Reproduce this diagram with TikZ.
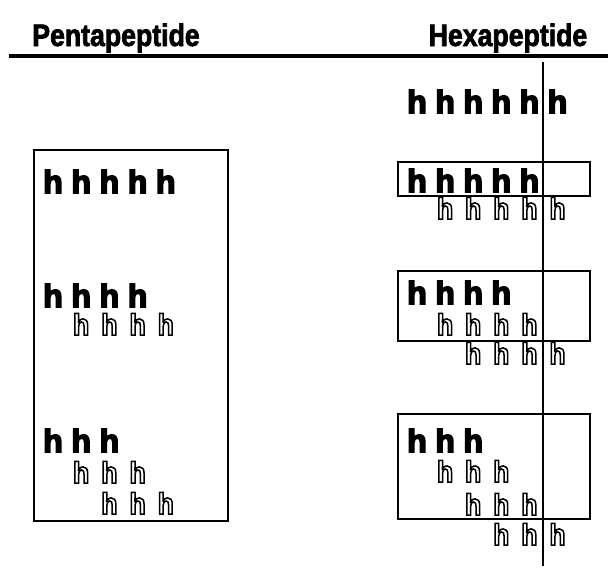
\documentclass[tikz,border=0pt]{standalone}
\usepackage{fontspec}
\setmainfont{Liberation Sans}
\newfontfamily\hboldfont{Liberation Sans Bold}
\newfontfamily\houtfont[FakeStretch=0.88]{Liberation Sans Bold}
\newfontfamily\titlefont[FakeStretch=0.86]{Liberation Sans Bold}
\newcommand{\heavy}[2]{\special{pdf:code q 2 Tr #1 w}#2\special{pdf:code Q}}
\newcommand{\oh}{\special{pdf:code q 1 Tr 1.5 w}h\special{pdf:code Q}}
\newcommand{\bh}{\heavy{1.6}{h}}
\tikzset{
  hb/.style={font=\fontsize{32}{32}\hboldfont, inner sep=0pt, anchor=base},
  ho/.style={font=\fontsize{30}{30}\houtfont, inner sep=0pt, anchor=base},
  title/.style={font=\fontsize{31}{31}\titlefont, inner sep=0pt, anchor=base},
  frame/.style={draw=black, line width=2pt}
}
\begin{document}
\begin{tikzpicture}[x=1pt,y=-1pt]
\useasboundingbox (0,0) rectangle (608,568);
% titles
\node[title] (tp) at (116,46) {\heavy{0.7}{Pentapeptide}};
\node[title] (th) at (508,46) {\heavy{0.7}{Hexapeptide}};
\coordinate (hl1) at (9,55.5);
\coordinate (hl2) at (608,55.5);
\draw[line width=4pt] (hl1) -- (hl2);
% left box
\node[frame, minimum width=194pt, minimum height=371pt, anchor=north west, inner sep=0pt] (lb) at (33,149) {};
% left row 1
\foreach \i in {0,...,4} \node[hb] (la\i) at (53+28.2*\i,193) {\bh};
% left row 2
\foreach \i in {0,...,3} \node[hb] (lb\i) at (53+28.2*\i,307) {\bh};
\foreach \i in {1,...,4} \node[ho] (lc\i) at (53+28.2*\i,335) {\oh};
% left row 3
\foreach \i in {0,...,2} \node[hb] (ld\i) at (53+28.2*\i,452) {\bh};
\foreach \i in {1,...,3} \node[ho] (le\i) at (53+28.2*\i,483) {\oh};
\foreach \i in {2,...,4} \node[ho] (lf\i) at (53+28.2*\i,514) {\oh};
% hexapeptide boxes
\node[frame, minimum width=192pt, minimum height=34pt, anchor=north west, inner sep=0pt] (hb1) at (397,161) {};
\node[frame, minimum width=192pt, minimum height=70pt, anchor=north west, inner sep=0pt] (hb2) at (397,270) {};
\node[frame, minimum width=192pt, minimum height=105pt, anchor=north west, inner sep=0pt] (hb3) at (397,413) {};
% top row
\foreach \i in {0,...,5} \node[hb] (ha\i) at (417+28.1*\i,113) {\bh};
% box 1
\foreach \i in {0,...,4} \node[hb] (hc\i) at (417+28.1*\i,192) {\bh};
\foreach \i in {1,...,5} \node[ho] (hd\i) at (417+28.1*\i,219) {\oh};
% box 2
\foreach \i in {0,...,3} \node[hb] (he\i) at (417+28.1*\i,304) {\bh};
\foreach \i in {1,...,4} \node[ho] (hf\i) at (417+28.1*\i,335) {\oh};
\foreach \i in {2,...,5} \node[ho] (hg\i) at (417+28.1*\i,364) {\oh};
% box 3
\foreach \i in {0,...,2} \node[hb] (hh\i) at (417+28.1*\i,452) {\bh};
\foreach \i in {1,...,3} \node[ho] (hi\i) at (417+28.1*\i,482) {\oh};
\foreach \i in {2,...,4} \node[ho] (hj\i) at (417+28.1*\i,515) {\oh};
\foreach \i in {3,...,5} \node[ho] (hk\i) at (417+28.1*\i,545) {\oh};
% vertical line
\coordinate (v1) at (543,62);
\coordinate (v2) at (543,566);
\draw[line width=2pt] (v1) -- (v2);
\end{tikzpicture}
\end{document}
